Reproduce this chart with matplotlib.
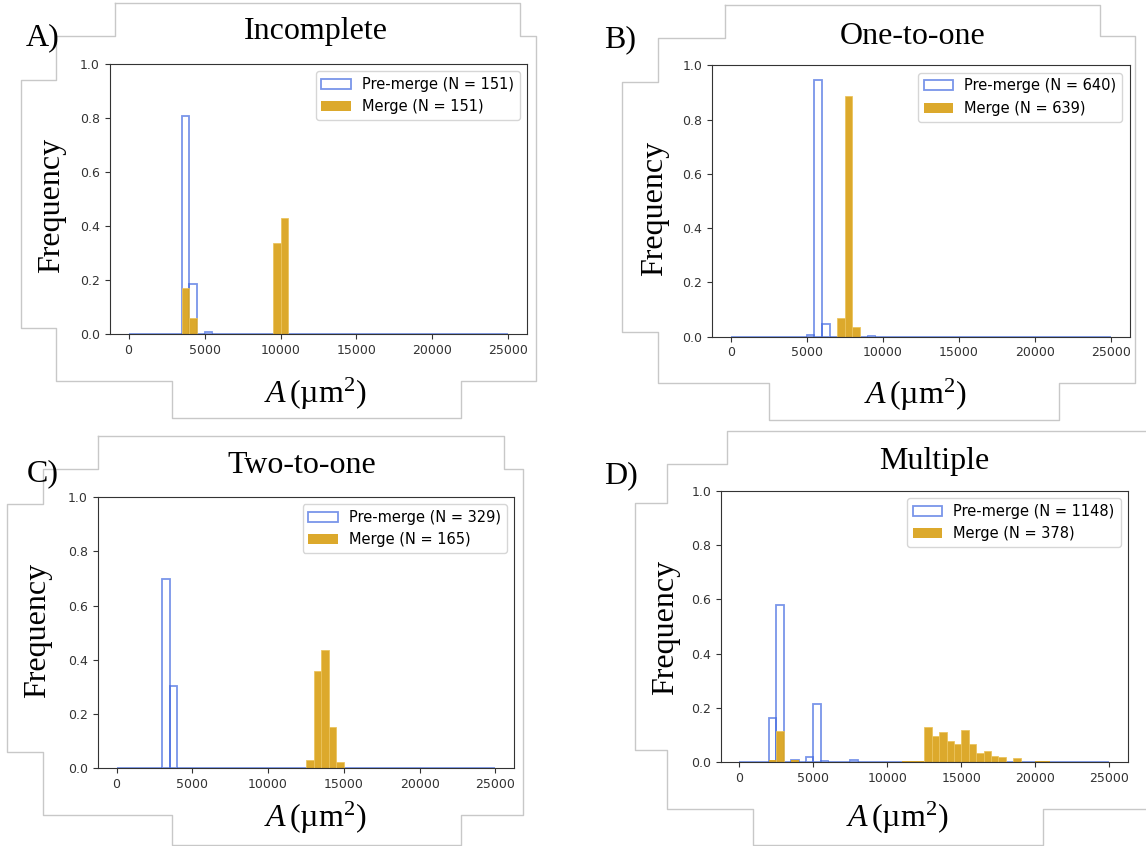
import numpy as np
import matplotlib
matplotlib.use("Agg")
import matplotlib.pyplot as plt
from matplotlib.lines import Line2D

plt.rcParams['font.family'] = ['DejaVu Sans']
plt.rcParams['mathtext.fontset'] = 'custom'
plt.rcParams['mathtext.rm'] = 'Liberation Serif'
plt.rcParams['mathtext.it'] = 'Liberation Serif:italic'

# ---------------- data ----------------
bin_width = 500
bin_edges = np.arange(0, 25001, bin_width)

titles = ["Incomplete", "One-to-one", "Two-to-one", "Multiple"]
panel_letters = ["A)", "B)", "C)", "D)"]
n_premerge = [151, 640, 329, 1148]
n_merge = [151, 639, 165, 378]

pre_A_left = [3500, 4000, 5000]
pre_A_freq = [0.808, 0.185, 0.007]
mer_A_left = [3500, 4000, 9500, 10000]
mer_A_freq = [0.172, 0.060, 0.338, 0.430]

pre_B_left = [5000, 5500, 6000, 9000]
pre_B_freq = [0.008, 0.944, 0.045, 0.002]
mer_B_left = [7000, 7500, 8000]
mer_B_freq = [0.070, 0.886, 0.036]

pre_C_left = [3000, 3500]
pre_C_freq = [0.696, 0.304]
mer_C_left = [12500, 13000, 13500, 14000, 14500]
mer_C_freq = [0.030, 0.358, 0.436, 0.152, 0.024]

pre_D_left = [2000, 2500, 3500, 4500, 5000, 5500, 7500]
pre_D_freq = [0.163, 0.580, 0.008, 0.019, 0.215, 0.004, 0.010]
mer_D_left = [2000, 2500, 3500, 11000, 11500, 12000, 12500, 13000, 13500,
              14000, 14500, 15000, 15500, 16000, 16500, 17000, 17500, 18500,
              20000, 20500]
mer_D_freq = [0.008, 0.117, 0.008, 0.003, 0.003, 0.003, 0.131, 0.096, 0.113,
              0.077, 0.066, 0.120, 0.068, 0.036, 0.042, 0.023, 0.021, 0.016,
              0.003, 0.003]

pre_left = [pre_A_left, pre_B_left, pre_C_left, pre_D_left]
pre_freq = [pre_A_freq, pre_B_freq, pre_C_freq, pre_D_freq]
mer_left = [mer_A_left, mer_B_left, mer_C_left, mer_D_left]
mer_freq = [mer_A_freq, mer_B_freq, mer_C_freq, mer_D_freq]

x_ticks = [0, 5000, 10000, 15000, 20000, 25000]
y_ticks = [0.0, 0.2, 0.4, 0.6, 0.8, 1.0]

# ---------------- layout (pixels) ----------------
W, H = 1146, 846
fig = plt.figure(figsize=(W / 100, H / 100), dpi=100)

def fx(x):
    return x / W

def fy(y):
    return 1 - y / H

axes_px = [  # left, right, top, bottom
    (109.6, 527.4, 64.0, 334.0),
    (711.9, 1129.6, 65.3, 336.7),
    (97.6, 514.3, 497.0, 768.3),
    (721.0, 1127.8, 490.7, 762.3),
]
title_px = [(316, 32), (913, 37), (301.5, 465), (934, 461)]
letter_px = [(43, 38), (620, 40), (43, 474), (621, 476)]
ylabel_px = [(52, 205), (655, 208), (37.5, 630), (666, 627)]
xlabel_px = [(315, 394), (915, 395), (315, 818), (897, 818)]

outlines = [
    [(115.1, 3.3), (519.7, 3.3), (519.7, 36), (536.2, 36), (536.2, 381), (460.5, 381),
     (460.5, 418.3), (171.8, 418.3), (171.8, 381), (55.6, 381), (55.6, 328.3),
     (21.2, 328.3), (21.2, 80), (55.6, 80), (55.6, 36), (115.1, 36), (115.1, 3.3)],
    [(724.7, 5), (1100.4, 5), (1100.4, 36), (1134.8, 36), (1134.8, 382.7), (1059.1, 382.7),
     (1059.1, 420), (769.3, 420), (769.3, 382.7), (658.2, 382.7), (658.2, 331.7),
     (622.3, 331.7), (622.3, 81.7), (658.2, 81.7), (658.2, 37.7), (724.7, 37.7), (724.7, 5)],
    [(98, 436.3), (503.7, 436.3), (503.7, 469), (523.4, 469), (523.4, 815.3), (461.3, 815.3),
     (461.3, 844.7), (171.8, 844.7), (171.8, 815.3), (43.1, 815.3), (43.1, 752),
     (7.3, 752), (7.3, 504), (43.1, 504), (43.1, 469), (98, 469), (98, 436.3)],
    [(1146, 431.3), (727.2, 431.3), (727.2, 463.7), (667.3, 463.7), (667.3, 503),
     (635.1, 503), (635.1, 750.3), (667.3, 750.3), (667.3, 809), (753.2, 809),
     (753.2, 844.7), (1042.7, 844.7), (1042.7, 809), (1146, 809)],
]

for pts in outlines:
    xs = [fx(p[0]) for p in pts]
    ys = [fy(p[1]) for p in pts]
    fig.add_artist(Line2D(xs, ys, color='#c8c8c8', lw=1.0, transform=fig.transFigure))

serif = 'Liberation Serif'

for i in range(4):
    l, r, t, b = axes_px[i]
    ax = fig.add_axes([fx(l), fy(b), (r - l) / W, (b - t) / H])
    pc = np.asarray(pre_left[i]) + bin_width / 2
    mc = np.asarray(mer_left[i]) + bin_width / 2
    ax.hist(pc, bins=bin_edges, weights=pre_freq[i], fill=False,
            edgecolor='royalblue', alpha=0.7, linewidth=1.3,
            label=f"Pre-merge (N = {n_premerge[i]})")
    _, _, mpatches = ax.hist(mc, bins=bin_edges, weights=mer_freq[i], color='goldenrod',
                             alpha=0.95, linewidth=0,
                             label=f"Merge (N = {n_merge[i]})")
    for p in mpatches:
        if p.get_height() > 0.01:
            p.set_edgecolor('#ebc35c')
            p.set_linewidth(0.6)
    ax.set_ylim(0, 1.0)
    ax.set_xlim(-1250, 26250)
    ax.set_xticks(x_ticks)
    ax.set_yticks(y_ticks)
    ax.set_yticklabels([f"{v:.1f}" for v in y_ticks])
    ax.tick_params(labelsize=9, colors='#333333', length=3.5)
    for s in ax.spines.values():
        s.set_color('#333333')
    ax.legend(loc='upper right', fontsize=10.5)

    fig.text(fx(title_px[i][0]), fy(title_px[i][1]), titles[i], family=serif,
             fontsize=23, ha='center', va='center')
    fig.text(fx(letter_px[i][0]), fy(letter_px[i][1]), panel_letters[i], family=serif,
             fontsize=23, ha='center', va='center')
    fig.text(fx(ylabel_px[i][0]), fy(ylabel_px[i][1]), "Frequency", family=serif,
             fontsize=23, ha='center', va='center', rotation=90)
    fig.text(fx(xlabel_px[i][0]), fy(xlabel_px[i][1]), r"$\mathit{A}\,(\mathrm{µm}^{2})$",
             fontsize=23, ha='center', va='center')

fig.savefig("out.png", dpi=100)
